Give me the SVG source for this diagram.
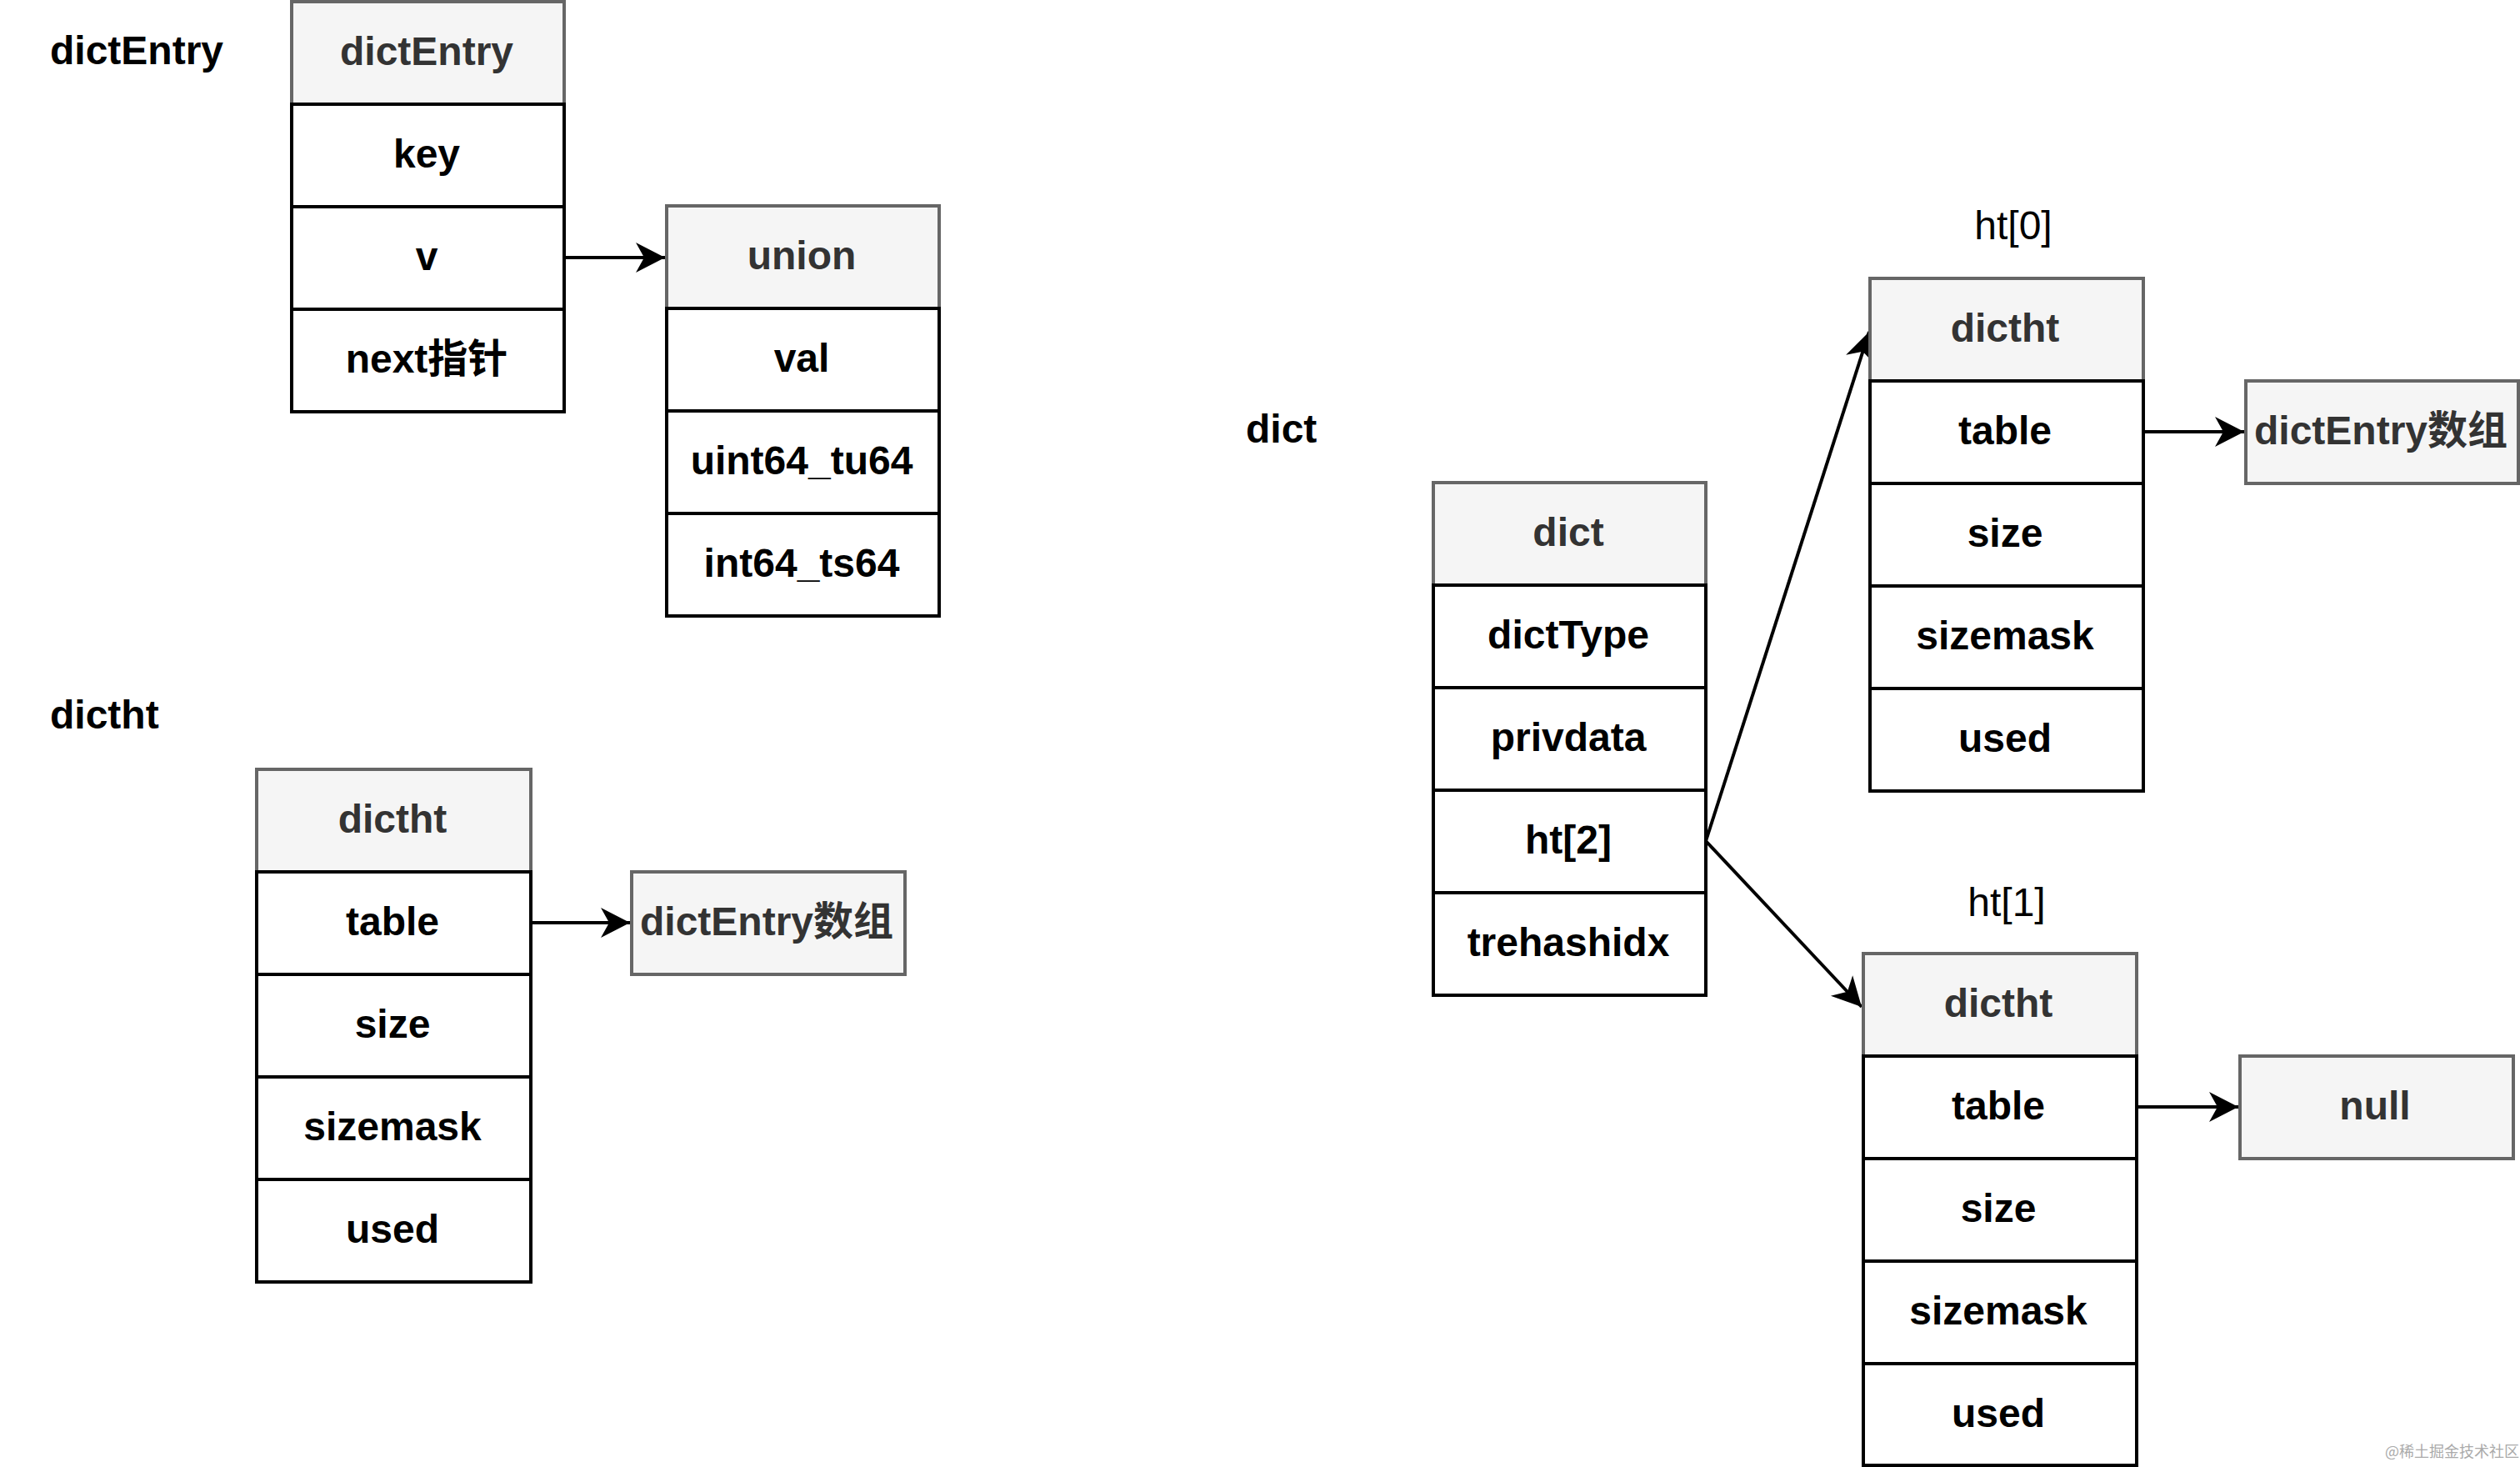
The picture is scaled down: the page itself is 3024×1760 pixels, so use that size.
<svg xmlns="http://www.w3.org/2000/svg" width="3024" height="1760" viewBox="0 0 3024 1760">
<style>
text{font-family:"Liberation Sans","Noto Sans CJK SC",sans-serif;font-size:48px;text-anchor:middle}
.lbl{font-weight:bold;text-anchor:start;fill:#000}
.ht{fill:#000}
.hd{fill:#f5f5f5;stroke:#666;stroke-width:4}
.hdt{font-weight:bold;fill:#333}
.row{fill:#fff;stroke:#000;stroke-width:4}
.rt{font-weight:bold;fill:#000}
.edge{fill:none;stroke:#000;stroke-width:4}
.wm{font-size:18px;fill:#aaa;text-anchor:start;font-family:"Noto Sans CJK SC",sans-serif}
</style>
<defs>
<marker id="arr" markerUnits="userSpaceOnUse" markerWidth="40" markerHeight="40" viewBox="-36 -20 40 40" refX="0" refY="0" orient="auto">
<path d="M0,0 L-35,-18 L-25,0 L-35,18 Z" fill="#000"/>
</marker>
</defs>
<rect width="3024" height="1760" fill="#fff"/>

<text class="lbl" x="60" y="77">dictEntry</text>
<text class="lbl" x="60" y="874">dictht</text>
<text class="lbl" x="1495" y="531">dict</text>
<text class="ht" x="2416" y="287">ht[0]</text>
<text class="ht" x="2408" y="1099">ht[1]</text>

<g id="connectors">
<line class="edge" x1="677" y1="309" x2="798" y2="309" marker-end="url(#arr)"/>
<line class="edge" x1="637" y1="1107" x2="756" y2="1107" marker-end="url(#arr)"/>
<line class="edge" x1="2572" y1="518" x2="2693" y2="518" marker-end="url(#arr)"/>
<line class="edge" x1="2564" y1="1328" x2="2686" y2="1328" marker-end="url(#arr)"/>
<line class="edge" x1="2047" y1="1009" x2="2243" y2="398" marker-end="url(#arr)"/>
<line class="edge" x1="2047" y1="1009" x2="2234" y2="1208" marker-end="url(#arr)"/>
</g>

<g id="dictEntry">
<rect class="hd" x="350" y="2" width="327" height="123"/>
<text class="hdt" x="512" y="78">dictEntry</text>
<rect class="row" x="350" y="125" width="327" height="123"/>
<text class="rt" x="512" y="201">key</text>
<rect class="row" x="350" y="248" width="327" height="123"/>
<text class="rt" x="512" y="324">v</text>
<rect class="row" x="350" y="371" width="327" height="123"/>
<text class="rt" x="512" y="447">next指针</text>
</g>

<g id="union">
<rect class="hd" x="800" y="247" width="327" height="123"/>
<text class="hdt" x="962" y="323">union</text>
<rect class="row" x="800" y="370" width="327" height="123"/>
<text class="rt" x="962" y="446">val</text>
<rect class="row" x="800" y="493" width="327" height="123"/>
<text class="rt" x="962" y="569">uint64_tu64</text>
<rect class="row" x="800" y="616" width="327" height="123"/>
<text class="rt" x="962" y="692">int64_ts64</text>
</g>

<g id="dictht-left">
<rect class="hd" x="308" y="923" width="329" height="123"/>
<text class="hdt" x="471" y="999">dictht</text>
<rect class="row" x="308" y="1046" width="329" height="123"/>
<text class="rt" x="471" y="1122">table</text>
<rect class="row" x="308" y="1169" width="329" height="123"/>
<text class="rt" x="471" y="1245">size</text>
<rect class="row" x="308" y="1292" width="329" height="123"/>
<text class="rt" x="471" y="1368">sizemask</text>
<rect class="row" x="308" y="1415" width="329" height="123"/>
<text class="rt" x="471" y="1491">used</text>
</g>

<g id="entries-left">
<rect class="hd" x="758" y="1046" width="328" height="123"/>
<text class="hdt" x="920" y="1122">dictEntry数组</text>
</g>

<g id="dict">
<rect class="hd" x="1720" y="579" width="327" height="123"/>
<text class="hdt" x="1882" y="655">dict</text>
<rect class="row" x="1720" y="702" width="327" height="123"/>
<text class="rt" x="1882" y="778">dictType</text>
<rect class="row" x="1720" y="825" width="327" height="123"/>
<text class="rt" x="1882" y="901">privdata</text>
<rect class="row" x="1720" y="948" width="327" height="123"/>
<text class="rt" x="1882" y="1024">ht[2]</text>
<rect class="row" x="1720" y="1071" width="327" height="123"/>
<text class="rt" x="1882" y="1147">trehashidx</text>
</g>

<g id="ht0">
<rect class="hd" x="2244" y="334" width="328" height="123"/>
<text class="hdt" x="2406" y="410">dictht</text>
<rect class="row" x="2244" y="457" width="328" height="123"/>
<text class="rt" x="2406" y="533">table</text>
<rect class="row" x="2244" y="580" width="328" height="123"/>
<text class="rt" x="2406" y="656">size</text>
<rect class="row" x="2244" y="703" width="328" height="123"/>
<text class="rt" x="2406" y="779">sizemask</text>
<rect class="row" x="2244" y="826" width="328" height="123"/>
<text class="rt" x="2406" y="902">used</text>
</g>

<g id="entries-right">
<rect class="hd" x="2695" y="457" width="327" height="123"/>
<text class="hdt" x="2857" y="533">dictEntry数组</text>
</g>

<g id="ht1">
<rect class="hd" x="2236" y="1144" width="328" height="123"/>
<text class="hdt" x="2398" y="1220">dictht</text>
<rect class="row" x="2236" y="1267" width="328" height="123"/>
<text class="rt" x="2398" y="1343">table</text>
<rect class="row" x="2236" y="1390" width="328" height="123"/>
<text class="rt" x="2398" y="1466">size</text>
<rect class="row" x="2236" y="1513" width="328" height="123"/>
<text class="rt" x="2398" y="1589">sizemask</text>
<rect class="row" x="2236" y="1636" width="328" height="122"/>
<text class="rt" x="2398" y="1712">used</text>
</g>

<g id="null">
<rect class="hd" x="2688" y="1267" width="328" height="123"/>
<text class="hdt" x="2850" y="1343">null</text>
</g>

<text class="wm" x="2862" y="1748">@稀土掘金技术社区</text>
</svg>
